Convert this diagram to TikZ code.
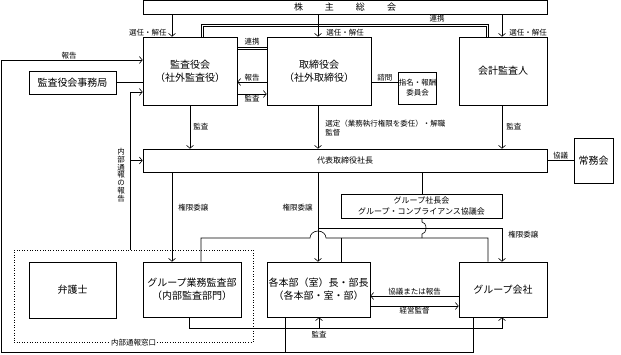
\documentclass[tikz,border=0pt]{standalone}
\usepackage{fontspec}
\setmainfont{Noto Sans CJK JP}
\usetikzlibrary{arrows.meta}
\begin{document}
\begin{tikzpicture}[x=1pt, y=-1pt, line width=0.6pt,
  >={Straight Barb[length=3pt,width=7pt]},
  box/.style={draw, inner sep=0pt, align=center, font=\fontsize{10}{13}\selectfont},
  lab/.style={inner sep=1pt, font=\fontsize{7.5}{8.5}\selectfont}]
  \useasboundingbox (0,0) rectangle (621,354);
  % boxes
  \node[box, minimum width=404pt, minimum height=14pt, font=\fontsize{9}{10}\selectfont] (sokai) at (345,7.5) {株\hspace{22pt}主\hspace{22pt}総\hspace{22pt}会};
  \node[box, minimum width=94pt, minimum height=68pt] (kansa) at (190,71) {監査役会\\（社外監査役）};
  \node[box, minimum width=104pt, minimum height=68pt] (torishimari) at (319,71) {取締役会\\（社外取締役）};
  \node[box, minimum width=37pt, minimum height=32pt, font=\fontsize{7.5}{10}\selectfont] (shimei) at (417.5,88) {指名・報酬\\委員会};
  \node[box, minimum width=88pt, minimum height=68pt] (kaikei) at (503,71) {会計監査人};
  \node[box, minimum width=87pt, minimum height=23pt] (jimu) at (72.5,82.5) {監査役会事務局};
  \node[box, minimum width=404pt, minimum height=23pt, font=\fontsize{8}{10}\selectfont] (shacho) at (345,160.5) {代表取締役社長};
  \node[box, minimum width=39pt, minimum height=45pt] (jomu) at (593.5,160.5) {常務会};
  \node[box, minimum width=161pt, minimum height=24pt, font=\fontsize{8}{10.5}\selectfont] (gshacho) at (421.5,206) {グループ社長会\\グループ・コンプライアンス協議会};
  \node[box, minimum width=87pt, minimum height=56pt] (bengo) at (72.5,290) {弁護士};
  \node[box, minimum width=98pt, minimum height=55pt] (gkansa) at (192,289.5) {グループ業務監査部\\（内部監査部門）};
  \node[box, minimum width=103pt, minimum height=55pt] (honbu) at (318.5,289.5) {各本部（室）長・部長\\（各本部・室・部）};
  \node[box, minimum width=88pt, minimum height=55pt] (gkaisha) at (503,289.5) {グループ会社};
  \node[draw, dotted, minimum width=239pt, minimum height=92pt] (madoguchi) at (133.5,296) {};
  \node[lab, fill=white] (madolab) at (madoguchi.south) {内部通報窓口};
  % junctions
  \coordinate (kengen) at (318,228);
  \coordinate (kansaline) at (319,328);
  \coordinate (houkoku) at (285,352);
  \coordinate (grp) at (341,238);
  % top
  \draw[->] (172,0 |- sokai.south) -- (172,0 |- kansa.north) node[lab, pos=0.8, left=4pt] {選任・解任};
  \draw[->] (318,0 |- sokai.south) -- (318,0 |- torishimari.north) node[lab, pos=0.8, right=7pt] {選任・解任};
  \draw[->] (502,0 |- sokai.south) -- (502,0 |- kaikei.north) node[lab, pos=0.8, right=6pt] {選任・解任};
  \foreach \d in {-1.1,1.1}
    \draw (202+\d,0 |- kansa.north) -- (202+\d,25+\d) -- (487.5-\d,25+\d) -- (487.5-\d,0 |- kaikei.north);
  \node[lab, above=1pt] (renkeilab) at (437,24) {連携};
  \foreach \d in {-0.8,0.8}
    \draw (kansa.east |- 0,48.5+\d) -- (torishimari.west |- 0,48.5+\d);
  \node[lab, above=1pt] (renkeilab2) at (252,47.7) {連携};
  \draw[->] (torishimari.west |- 0,82) -- (kansa.east |- 0,82) node[lab, midway, above] {報告};
  \draw[->] (kansa.east |- 0,94) -- (torishimari.west |- 0,94) node[lab, midway, below] {監査};
  \draw (torishimari.east |- 0,82) -- (shimei.west |- 0,82) node[lab, midway, above] {諮問};
  \draw (jimu.east) -- (jimu.east -| kansa.west);
  % reporting loop
  \draw[->] (285,0 |- honbu.south) -- (houkoku) -| (1,60) -- (kansa.west |- 0,60) node[lab, pos=0.48, above] {報告};
  \draw (473,0 |- gkaisha.south) |- (houkoku);
  \draw[->] (130,0 |- madoguchi.north) |- (kansa.west |- 0,92);
  \draw[->] (130,0 |- shacho.west) -- (shacho.west);
  \node[lab, align=center, font=\fontsize{7.5}{7.8}\selectfont] (tsuholab) at (121,175) {内\\部\\通\\報\\の\\報\\告};
  % to president
  \draw[->] (190,0 |- kansa.south) -- (190,0 |- shacho.north) node[lab, midway, right=2pt] {監査};
  \draw[->] (318,0 |- torishimari.south) -- (318,0 |- shacho.north) node[lab, pos=0.52, right=6pt, align=left] {選定（業務執行権限を委任）・解職\\監督};
  \draw[->] (502,0 |- kaikei.south) -- (502,0 |- shacho.north) node[lab, midway, right=3pt] {監査};
  \draw (shacho.east) -- (jomu.west) node[lab, midway, above] {協議};
  % delegation
  \draw[->] (172,0 |- shacho.south) -- (172,0 |- gkansa.north) node[lab, pos=0.4, right=5pt] {権限委譲};
  \draw[->] (318,0 |- shacho.south) -- (318,0 |- honbu.north) node[lab, pos=0.4, left=4pt] {権限委譲};
  \draw[->] (kengen) -| (502,0 |- gkaisha.north) node[lab, pos=0.6, right=5pt] {権限委譲};
  \draw (422,0 |- shacho.south) -- (422,0 |- gshacho.north);
  \draw (422,0 |- gshacho.south) -- (422,222) arc[start angle=90, end angle=-90, x radius=4pt, y radius=6pt] -- (422,238);
  \draw (201,0 |- gkansa.north) |- (310,238) arc[start angle=180, end angle=0, x radius=8pt, y radius=7pt] -| (488,0 |- gkaisha.north);
  \draw (grp) -- (grp |- honbu.north);
  % bottom
  \draw[->] (gkaisha.west |- 0,296) -- (honbu.east |- 0,296) node[lab, midway, above] {協議または報告};
  \draw[->] (honbu.east |- 0,306) -- (gkaisha.west |- 0,306) node[lab, midway, below] {経営監督};
  \draw[->] (189,0 |- gkansa.south) |- (502,328) -- (502,0 |- gkaisha.south);
  \draw[->] (kansaline) node[lab, below=2pt] {監査} -- (kansaline |- honbu.south);
\end{tikzpicture}
\end{document}
